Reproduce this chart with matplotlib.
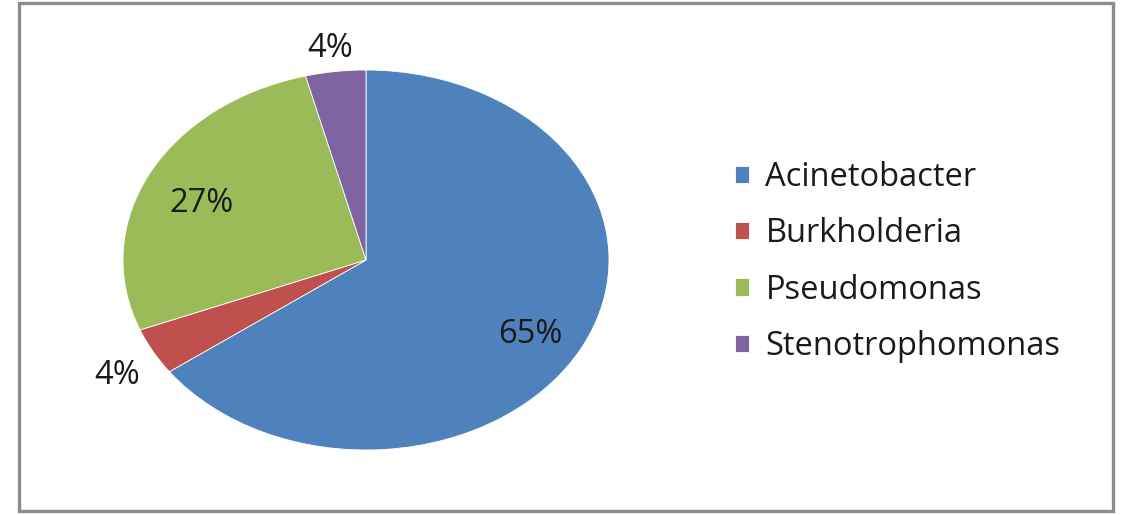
import numpy as np
import matplotlib.pyplot as plt
from matplotlib.patches import Rectangle

plt.rcParams['font.family'] = ['Open Sans', 'DejaVu Sans']

categories = ['Acinetobacter', 'Burkholderia', 'Pseudomonas', 'Stenotrophomonas']
shares = [65, 4, 27, 4]
colors = ['#4F81BD', '#C0504D', '#9BBB59', '#8064A2']

W, H = 1122, 515
fig = plt.figure(figsize=(W / 100, H / 100), dpi=100)

# outer chart border
fig.patches.append(Rectangle((19 / W, 4 / H), (1113 - 19) / W, (512 - 4) / H,
                             transform=fig.transFigure, fill=False,
                             edgecolor='#8c8c8c', linewidth=2.4, zorder=0))

# axes box spans the (elliptical) pie
cx, cy, rx, ry = 366, 260, 243, 190
ax = fig.add_axes([(cx - rx) / W, (H - cy - ry) / H, 2 * rx / W, 2 * ry / H])
wedges, _ = ax.pie(shares, colors=colors, startangle=90, counterclock=False,
                   radius=1.0, wedgeprops=dict(edgecolor='white', linewidth=0.6))
ax.set_aspect('auto')
ax.set_xlim(-1, 1)
ax.set_ylim(-1, 1)
ax.axis('off')

# percentage labels: inside for large slices, outside for small ones
total = sum(shares)
start = 90.0
for v in shares:
    sweep = 360.0 * v / total
    mid = np.deg2rad(start - sweep / 2)
    start -= sweep
    r = 0.76 if v >= 10 else 1.17
    x, y = r * np.cos(mid), r * np.sin(mid) - 0.025
    ax.text(x, y, f'{v}%', ha='center', va='center_baseline',
            fontsize=23.5, color='#1a1a1a')

leg = fig.legend(wedges, categories, loc='center left',
                 bbox_to_anchor=(722 / W, (H - 262) / H), frameon=False,
                 fontsize=23.5, handlelength=0.43, handleheight=0.43,
                 handletextpad=0.5, labelspacing=0.71, borderaxespad=0)
for t in leg.get_texts():
    t.set_color('#1a1a1a')

fig.savefig('out.png', dpi=100)
